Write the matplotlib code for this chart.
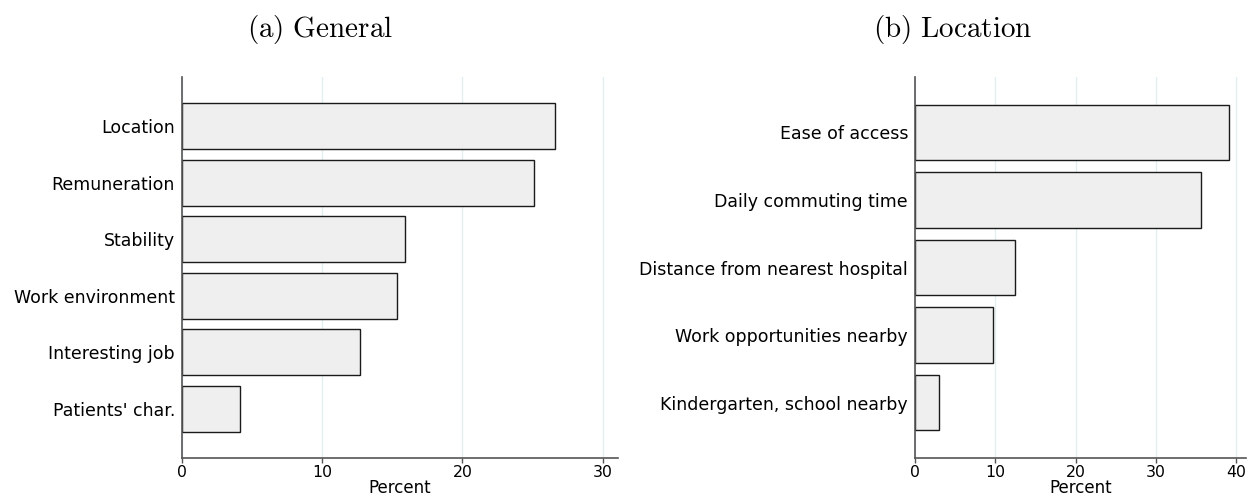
import numpy as np
import matplotlib
matplotlib.use("Agg")
import matplotlib.pyplot as plt

plt.rcParams['mathtext.fontset'] = 'cm'

# (a) General
general_labels = ['Location', 'Remuneration', 'Stability', 'Work environment',
                  'Interesting job', "Patients' char."]
general_values = [26.6, 25.1, 15.9, 15.3, 12.7, 4.1]

# (b) Location
location_labels = ['Ease of access', 'Daily commuting time',
                   'Distance from nearest hospital', 'Work opportunities nearby',
                   'Kindergarten, school nearby']
location_values = [39.1, 35.6, 12.45, 9.7, 2.95]

general_ticks = [0, 10, 20, 30]
location_ticks = [0, 10, 20, 30, 40]

fig = plt.figure(figsize=(12.52, 5.01), dpi=100)
ax1 = fig.add_axes([0.1454, 0.0858, 0.3482, 0.7605])
ax2 = fig.add_axes([0.7308, 0.0858, 0.2644, 0.7605])

FS = 12.5


def draw(ax, labels, values, ticks, xmax, pad):
    n = len(labels)
    y = np.arange(n)[::-1]
    ax.set_axisbelow(True)
    ax.barh(y, values, height=0.82, color='#efefef', edgecolor='#1a1a1a',
            linewidth=1.0)
    ax.set_yticks(y)
    ax.set_yticklabels(labels, fontsize=FS)
    ax.set_ylim(-pad, n - 1 + pad)
    ax.set_xlim(0, xmax)
    ax.set_xticks(ticks)
    ax.tick_params(axis='x', labelsize=11.3, length=3.5, width=1, color='#555555', pad=1.5)
    ax.tick_params(axis='y', length=0, pad=5)
    ax.xaxis.grid(True, color='#e3eef1', linewidth=1)
    for s in ['top', 'right']:
        ax.spines[s].set_visible(False)
    for s in ['left', 'bottom']:
        ax.spines[s].set_color('#555555')
        ax.spines[s].set_linewidth(1.2)
    ax.set_xlabel('Percent', fontsize=12, labelpad=-1)


draw(ax1, general_labels, general_values, general_ticks, 31.1, 0.87)
draw(ax2, location_labels, location_values, location_ticks, 41.2, 0.82)

fig.text(320 / 1252, 1 - 30 / 501, r'$\mathrm{(a)\ General}$', fontsize=21,
         ha='center', va='center')
fig.text(953 / 1252, 1 - 30 / 501, r'$\mathrm{(b)\ Location}$', fontsize=21,
         ha='center', va='center')

fig.savefig('out.png', dpi=100)
